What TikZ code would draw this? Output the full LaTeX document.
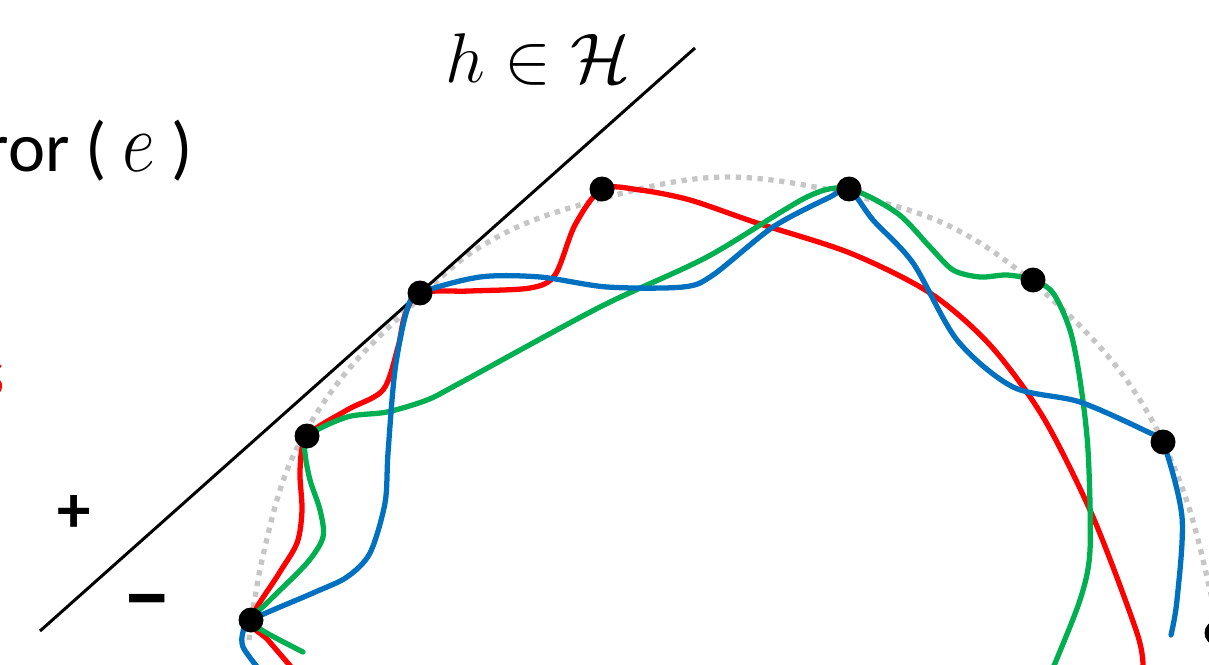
\documentclass[tikz,border=0pt]{standalone}
\usepackage{amsmath,amssymb}
\usepackage{graphicx}
\usepackage{fontspec}
\setmainfont{Carlito}
\usepackage{xcolor}
\usetikzlibrary{positioning,calc}

\definecolor{pptred}{RGB}{255,0,0}
\definecolor{pptgreen}{RGB}{0,176,80}
\definecolor{pptblue}{RGB}{0,112,192}

\newcommand{\bigmath}[3]{\scalebox{#1}[#2]{\Huge$#3$}}

\begin{document}
\begin{tikzpicture}[
    x=0.02cm, y=-0.02cm,
    dot/.style={
        circle,
        fill=black,
        minimum size=0.5cm,
        inner sep=0pt
    },
    fitcurve/.style={line width=3pt, line cap=round, smooth, tension=0.5},
    datarim/.style={line width=3pt, gray!45, dash pattern=on 3pt off 3.2pt},
    sign/.style={font=\fontsize{38}{44}\selectfont\bfseries, inner sep=0pt},
    bigtext/.style={font=\fontsize{40}{48}\selectfont, inner sep=0pt}
]
\useasboundingbox (0,0) rectangle (1209,665);

% ============================================================
% PUNTOS
% ============================================================
\coordinate (p1) at (251,620);
\coordinate (p2) at (307,436);
\coordinate (p3) at (420,293);
\coordinate (p4) at (602,189);
\coordinate (p5) at (849,189);
\coordinate (p6) at (1033,280);
\coordinate (p7) at (1163,442);
\coordinate (p8) at (1217,633);

% ============================================================
% ARCO PUNTEADO
% ============================================================
\draw[datarim] plot[smooth, tension=0.6] coordinates {
    (249,640) (262,560) (290,463) (340,380) (410,307) (480,247)
    (573,207) (723,177) (880,202) (980,243) (1077,323) (1140,400)
    (1183,490) (1210,590) (1222,660)};

% ============================================================
% HIPOTESIS
% ============================================================
\coordinate (hs) at (40,631);
\coordinate (he) at (695,48);
\draw[line width=1.7pt] (hs) -- (he);
\node[inner sep=0pt, anchor=base] (hyp) at (538,83)
    {\bigmath{1.61}{1.61}{h \in \mathcal{H}}};

% ============================================================
% CURVAS
% ============================================================
\draw[fitcurve, pptred] plot coordinates {
    (292,668) (268,640) (p1) (278,575) (297,543) (302,510) (300,470)
    (p2) (347,410) (383,390) (398,347) (405,315) (p3) (470,291)
    (530,288) (555,275) (575,225) (p4) (640,190) (690,200) (757,223)
    (850,253) (930,293) (990,345) (1043,417) (1093,517) (1137,633)
    (1143,668)};
\draw[fitcurve, pptgreen] plot coordinates {
    (303,652) (265,632) (p1) (270,600) (307,563) (323,537) (320,510)
    (310,480) (305,453) (p2) (347,417) (387,412) (427,400) (460,383)
    (600,307) (707,257) (807,197) (p5) (897,213) (930,247) (953,270)
    (980,277) (1007,275) (p6) (1053,293) (1070,330) (1080,380)
    (1088,450) (1090,550) (1080,600) (1053,668)};
\draw[fitcurve, pptblue] plot coordinates {
    (258,668) (243,647) (243,632) (p1) (313,593) (347,577) (370,553)
    (385,503) (388,453) (395,370) (407,310) (p3) (480,277) (540,277)
    (607,287) (683,287) (713,275) (773,227) (830,197) (p5) (873,220)
    (913,263) (957,340) (1013,387) (1080,402) (1150,433) (p7)
    (1182,517) (1177,600) (1171,635)};

% ============================================================
% NODOS
% ============================================================
\foreach \i in {1,...,8}
    \node[dot] (d\i) at (p\i) {};

% ============================================================
% TEXTOS
% ============================================================
\node[bigtext, anchor=base east] (err) at (193,172)
    {ror ( \bigmath{1.65}{1.95}{e} )};
\node[bigtext, anchor=base east, text=pptred] (cut) at (5,396) {s};
\node[sign] (plus) at (74,514) {+};
\node[sign, font=\fontsize{52}{60}\selectfont\bfseries] (minus) at (147,611) {−};

\end{tikzpicture}
\end{document}
